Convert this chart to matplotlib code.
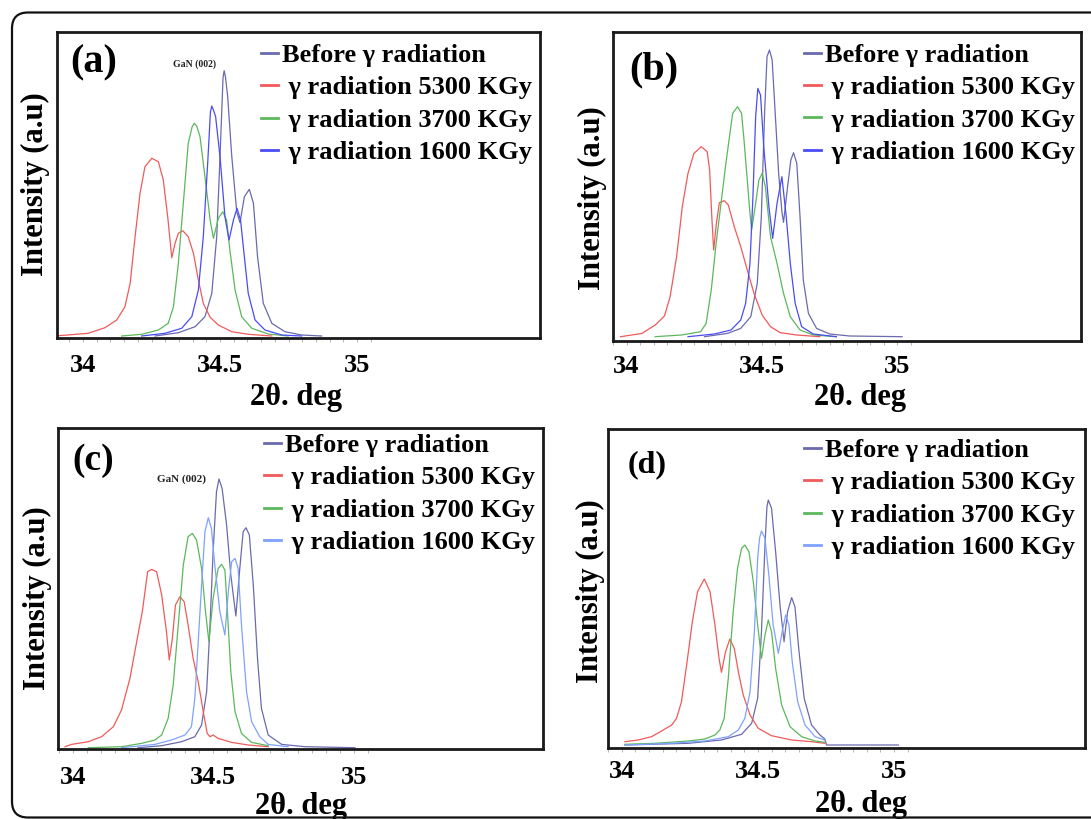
import numpy as np
import matplotlib
matplotlib.use("Agg")
import matplotlib.pyplot as plt
from matplotlib.patches import FancyBboxPatch

plt.rcParams['font.family'] = ['Liberation Serif', 'DejaVu Serif']
plt.rcParams['font.weight'] = 'bold'

labels = ['Before \u03b3 radiation', ' \u03b3 radiation 5300 KGy',
          ' \u03b3 radiation 3700 KGy', ' \u03b3 radiation 1600 KGy']
tick_vals = [34, 34.5, 35]
tick_text = ['34', '34.5', '35']

# ---- panel (a) ----
a_before_x = [34.263, 34.348, 34.409, 34.445, 34.470, 34.488, 34.500, 34.511, 34.515, 34.520, 34.528, 34.543,
              34.561, 34.573, 34.589, 34.607, 34.622, 34.637, 34.658, 34.689, 34.737, 34.798, 34.871]
a_before_y = [0, 3.3, 9.3, 19.3, 42.7, 99.3, 179.3, 258, 265.3, 259, 239.3, 179.3,
              124.3, 113.3, 139.3, 146.7, 132.7, 79.3, 32.7, 12.7, 4.3, 1, 0]
a_5300_x = [33.898, 34.019, 34.080, 34.123, 34.153, 34.172, 34.190, 34.208, 34.226, 34.251, 34.275, 34.293,
            34.309, 34.324, 34.336, 34.348, 34.364, 34.384, 34.403, 34.421, 34.439, 34.464, 34.494,
            34.543, 34.603, 34.689]
a_5300_y = [0, 2.7, 8.3, 16, 29.3, 52.7, 99.3, 142.7, 169.3, 177.7, 174.3, 156,
            119.3, 78.3, 92.7, 102.7, 105.3, 99.3, 82.7, 56, 32.7, 18.7, 11,
            4.3, 1.7, 0]
a_3700_x = [34.141, 34.214, 34.275, 34.311, 34.330, 34.348, 34.366, 34.384, 34.398, 34.406, 34.415, 34.427,
            34.445, 34.464, 34.476, 34.494, 34.510, 34.524, 34.536, 34.555, 34.579, 34.616, 34.676, 34.749]
a_3700_y = [0, 1.7, 6, 12.7, 29.3, 72.7, 132.7, 192.7, 209, 212.7, 210, 199.3,
            159.3, 116, 97.7, 117.7, 124.3, 116, 86, 46, 19.3, 7.7, 2, 0]
a_1600_x = [34.214, 34.299, 34.360, 34.397, 34.421, 34.439, 34.455, 34.465, 34.470, 34.476, 34.484, 34.500,
            34.518, 34.533, 34.549, 34.562, 34.575, 34.585, 34.603, 34.628, 34.664, 34.725, 34.798]
a_1600_y = [0, 2.7, 7.7, 19.3, 46, 99.3, 172.7, 224, 230, 226, 219.3, 179.3,
            119.3, 96, 116, 127.7, 116, 89.3, 42.7, 16, 6, 1, 0]

# ---- panel (b) ----
b_before_x = [34.288, 34.373, 34.422, 34.459, 34.483, 34.498, 34.510, 34.519, 34.528, 34.538, 34.550,
              34.562, 34.574, 34.580, 34.595, 34.607, 34.617, 34.629, 34.641, 34.653, 34.672, 34.702,
              34.751, 34.824, 35.018]
b_before_y = [0, 3.3, 8.3, 20, 53.3, 120, 223.3, 280, 286.7, 276.7, 220,
              163.3, 125, 114.3, 150, 176.7, 184, 173.3, 120, 56.7, 23.3, 8.3,
              2.7, 0.7, 0]
b_5300_x = [33.978, 34.057, 34.106, 34.140, 34.161, 34.185, 34.206, 34.227, 34.249, 34.276, 34.298,
            34.307, 34.315, 34.322, 34.332, 34.343, 34.361, 34.376, 34.398, 34.422, 34.446, 34.471,
            34.501, 34.532, 34.568, 34.629, 34.714]
b_5300_y = [0, 3.3, 11.7, 20.7, 40, 80, 130, 163.3, 183.3, 190, 185,
            166.7, 120, 86.7, 113.3, 134, 136, 131.7, 110, 90, 66.7, 43.3,
            21.7, 10, 4, 1.7, 0]
b_3700_x = [34.106, 34.203, 34.274, 34.294, 34.313, 34.331, 34.349, 34.367, 34.392, 34.410, 34.425,
            34.434, 34.446, 34.455, 34.462, 34.477, 34.489, 34.501, 34.513, 34.532, 34.556, 34.580,
            34.605, 34.641, 34.690, 34.775]
b_3700_y = [0, 1.7, 5, 13.3, 46.7, 93.3, 133.3, 173.3, 223.3, 230, 223.3,
            196.7, 156.7, 126.7, 106.7, 133.3, 156.7, 163.3, 150, 100, 73.3, 43.3,
            20, 6.7, 1.7, 0]
b_1600_x = [34.227, 34.325, 34.386, 34.422, 34.440, 34.456, 34.467, 34.477, 34.485, 34.495, 34.507,
            34.526, 34.540, 34.556, 34.574, 34.590, 34.605, 34.623, 34.647, 34.690, 34.775]
b_1600_y = [0, 2.7, 6.7, 16.7, 33.3, 73.3, 140, 220, 248.3, 241.7, 190,
            130, 98.3, 133.3, 160, 120, 73.3, 33.3, 10, 2.7, 0]

# ---- panel (c) ----
c_before_x = [34.232, 34.316, 34.387, 34.434, 34.458, 34.476, 34.488, 34.499, 34.511, 34.520, 34.531,
              34.547, 34.562, 34.580, 34.594, 34.606, 34.616, 34.628, 34.642, 34.657, 34.671, 34.695,
              34.743, 34.826, 35.004]
c_before_y = [0, 2, 6, 11, 22.7, 56, 122.7, 196, 256, 268.7, 259.3,
              222.7, 172.7, 131.7, 179.3, 216, 220, 212.7, 162.7, 89.3, 39.3, 12.7,
              3.3, 1, 0]
c_5300_x = [33.972, 33.995, 34.055, 34.102, 34.144, 34.173, 34.203, 34.227, 34.247, 34.266, 34.280,
            34.298, 34.316, 34.333, 34.343, 34.354, 34.365, 34.381, 34.396, 34.410, 34.428, 34.446,
            34.464, 34.478, 34.488, 34.499, 34.517, 34.565, 34.624, 34.695]
c_5300_y = [1, 3.3, 6, 11, 21, 37.7, 69.3, 106, 136, 176, 178.3,
            176, 152.7, 116, 87.7, 109.3, 142.7, 151, 146, 122.7, 89.3, 66,
            36, 14.3, 11, 12.7, 9.3, 5.3, 2.7, 1]
c_3700_x = [34.055, 34.173, 34.244, 34.292, 34.316, 34.339, 34.357, 34.375, 34.393, 34.410, 34.425,
            34.440, 34.458, 34.472, 34.484, 34.499, 34.517, 34.529, 34.541, 34.550, 34.562, 34.577,
            34.600, 34.636, 34.695]
c_3700_y = [0, 1, 4.3, 7.7, 12.7, 29.3, 62.7, 122.7, 182.7, 211, 214.3,
            207.7, 179.3, 136, 106, 149.3, 179.3, 183.3, 177.7, 136, 76, 36,
            14.3, 5.3, 2]
c_1600_x = [34.173, 34.292, 34.351, 34.399, 34.422, 34.434, 34.446, 34.458, 34.470, 34.482, 34.493,
            34.505, 34.523, 34.541, 34.553, 34.565, 34.577, 34.588, 34.600, 34.618, 34.636, 34.665,
            34.695, 34.766]
c_1600_y = [0, 3.3, 7.7, 12.7, 21, 49.3, 106, 162.7, 216, 230, 219.3,
            182.7, 136, 112.7, 156, 186, 189.3, 179.3, 122.7, 56, 26, 11,
            3.3, 1]

# ---- panel (d) ----
d_before_x = [34.011, 34.244, 34.366, 34.440, 34.477, 34.499, 34.513, 34.526, 34.533, 34.538, 34.550, 34.565,
              34.581, 34.596, 34.609, 34.624, 34.636, 34.651, 34.670, 34.697, 34.728, 34.746, 34.752,
              35.016]
d_before_y = [0, 1.7, 5, 10.7, 21.7, 46.7, 113.3, 200, 238, 245, 236.7, 193.3,
              140, 103.3, 133.3, 147.3, 138.3, 93.3, 46.7, 20, 10, 6, 0,
              0]
d_5300_x = [34.011, 34.060, 34.109, 34.146, 34.183, 34.201, 34.219, 34.238, 34.259, 34.278, 34.303,
            34.324, 34.342, 34.357, 34.366, 34.381, 34.397, 34.413, 34.428, 34.446, 34.471, 34.501,
            34.550, 34.624, 34.697, 34.746]
d_5300_y = [3.3, 5, 8.3, 14, 20, 26.7, 43.3, 80, 123.3, 153.3, 166,
            153.3, 120, 86.7, 72.7, 93.3, 106, 96.7, 73.3, 50, 30, 16.7,
            9.3, 5, 3.3, 1.7]
d_3700_x = [34.011, 34.121, 34.244, 34.305, 34.342, 34.360, 34.376, 34.391, 34.409, 34.425, 34.440,
            34.452, 34.467, 34.483, 34.499, 34.513, 34.526, 34.538, 34.550, 34.565, 34.587, 34.618,
            34.661, 34.710, 34.746]
d_3700_y = [0.7, 1.7, 4, 6, 10, 15, 26.7, 66.7, 133.3, 176.7, 196.7,
            200, 193.3, 163.3, 120, 86.7, 110, 125, 113.3, 76.7, 40, 18.3,
            8.3, 4, 2.7]
d_1600_x = [34.011, 34.183, 34.305, 34.391, 34.428, 34.452, 34.471, 34.487, 34.499, 34.506, 34.513, 34.526,
            34.540, 34.556, 34.575, 34.589, 34.602, 34.614, 34.626, 34.646, 34.673, 34.710, 34.746]
d_1600_y = [0, 1.7, 4, 8.3, 15, 26.7, 53.3, 113.3, 186.7, 207, 214, 206.7,
            170, 120, 91.7, 113.3, 130, 120, 83.3, 43.3, 20, 8.3, 5]

panels = [
    dict(tag='(a)', curves=[(a_before_x, a_before_y), (a_5300_x, a_5300_y), (a_3700_x, a_3700_y), (a_1600_x, a_1600_y)],
         rect=[0.05225, 0.58730, 0.44271, 0.37302], xlim=(33.905, 35.668), ylim=(-2, 303.5),
         blue='#4a4cf5', tagpos=(0.0756, 0.902), tagsize=29, gan=(0.285, 0.897, 7),
         leg=(0.422, 0.964), ylab=(-0.0147, 0.504), xlab=(0.495, -0.147), pad=11.5),
    dict(tag='(b)', curves=[(b_before_x, b_before_y), (b_5300_x, b_5300_y), (b_3700_x, b_3700_y), (b_1600_x, b_1600_y)],
         rect=[0.56187, 0.58303, 0.42896, 0.37729], xlim=(33.971, 35.679), ylim=(-4.8, 304.2),
         blue='#4a4cf5', tagpos=(0.0865, 0.879), tagsize=29, gan=None,
         leg=(0.408, 0.965), ylab=(-0.0128, 0.463), xlab=(0.528, -0.134), pad=10),
    dict(tag='(c)', curves=[(c_before_x, c_before_y), (c_5300_x, c_5300_y), (c_3700_x, c_3700_y), (c_1600_x, c_1600_y)],
         rect=[0.05316, 0.08547, 0.44454, 0.39194], xlim=(33.947, 35.673), ylim=(-1.3, 319.7),
         blue='#7fa2ff', tagpos=(0.073, 0.90), tagsize=27, gan=(0.254, 0.841, 8),
         leg=(0.425, 0.983), ylab=(-0.0124, 0.469), xlab=(0.502, -0.133), pad=12),
    dict(tag='(d)', curves=[(d_before_x, d_before_y), (d_5300_x, d_5300_y), (d_3700_x, d_3700_y), (d_1600_x, d_1600_y)],
         rect=[0.55729, 0.08669, 0.43721, 0.39011], xlim=(33.949, 35.702), ylim=(-3, 316.5),
         blue='#7fa2ff', tagpos=(0.081, 0.886), tagsize=23, gan=None,
         leg=(0.411, 0.969), ylab=(-0.0071, 0.49), xlab=(0.530, -0.131), pad=8.5),
]

fig = plt.figure(figsize=(10.91, 8.19), dpi=100)

# rounded outer frame, running off the right and bottom edge
frame = FancyBboxPatch((0.12, 0.015), 11.2, 8.05, boxstyle='round,pad=0,rounding_size=0.16',
                       transform=fig.dpi_scale_trans, fill=False, lw=1.6, ec='#111111', clip_on=False)
fig.add_artist(frame)

minor_locs = np.arange(33.95, 35.06, 0.05)

for p in panels:
    ax = fig.add_axes(p['rect'])
    colors = ['#6a6aae', '#f05a5a', '#5cb85c', p['blue']]
    for (xs, ys), c, lab in zip(p['curves'], colors, labels):
        ax.plot(xs, ys, color=c, lw=0.9, label=lab, solid_joinstyle='round')
    ax.set_xlim(*p['xlim'])
    ax.set_ylim(*p['ylim'])
    ax.set_yticks([])
    ax.set_xticks(tick_vals)
    ax.set_xticklabels(tick_text, fontsize=19, fontweight='bold')
    ax.xaxis.remove_overlapping_locs = False
    ax.set_xticks(minor_locs, minor=True)
    ax.tick_params(axis='x', which='major', length=0, pad=p['pad'])
    ax.tick_params(axis='x', which='minor', length=3, width=0.6, color='#aaaaaa')
    for s in ax.spines.values():
        s.set_linewidth(2.0)
        s.set_color('#1a1a1a')

    ax.set_xlabel('2\u03b8. deg', fontsize=22, fontweight='bold')
    ax.xaxis.set_label_coords(*p['xlab'])
    ax.set_ylabel('Intensity (a.u)', fontsize=22, fontweight='bold')
    ax.yaxis.set_label_coords(*p['ylab'])

    ax.text(p['tagpos'][0], p['tagpos'][1], p['tag'], transform=ax.transAxes,
            ha='center', va='center', fontsize=p['tagsize'], fontweight='bold')
    if p['gan']:
        gx, gy, gs = p['gan']
        ax.text(gx, gy, 'GaN (002)', transform=ax.transAxes, ha='center', va='center',
                fontsize=gs, fontweight='bold', color='#222222')

    leg = ax.legend(loc='upper left', bbox_to_anchor=p['leg'], frameon=False,
                    prop={'size': 19, 'weight': 'bold'}, borderpad=0, borderaxespad=0,
                    handlelength=0.65, handletextpad=0.15, labelspacing=0.34)
    for ln in leg.get_lines():
        ln.set_linewidth(2.0)

fig.savefig('out.png', dpi=100)
